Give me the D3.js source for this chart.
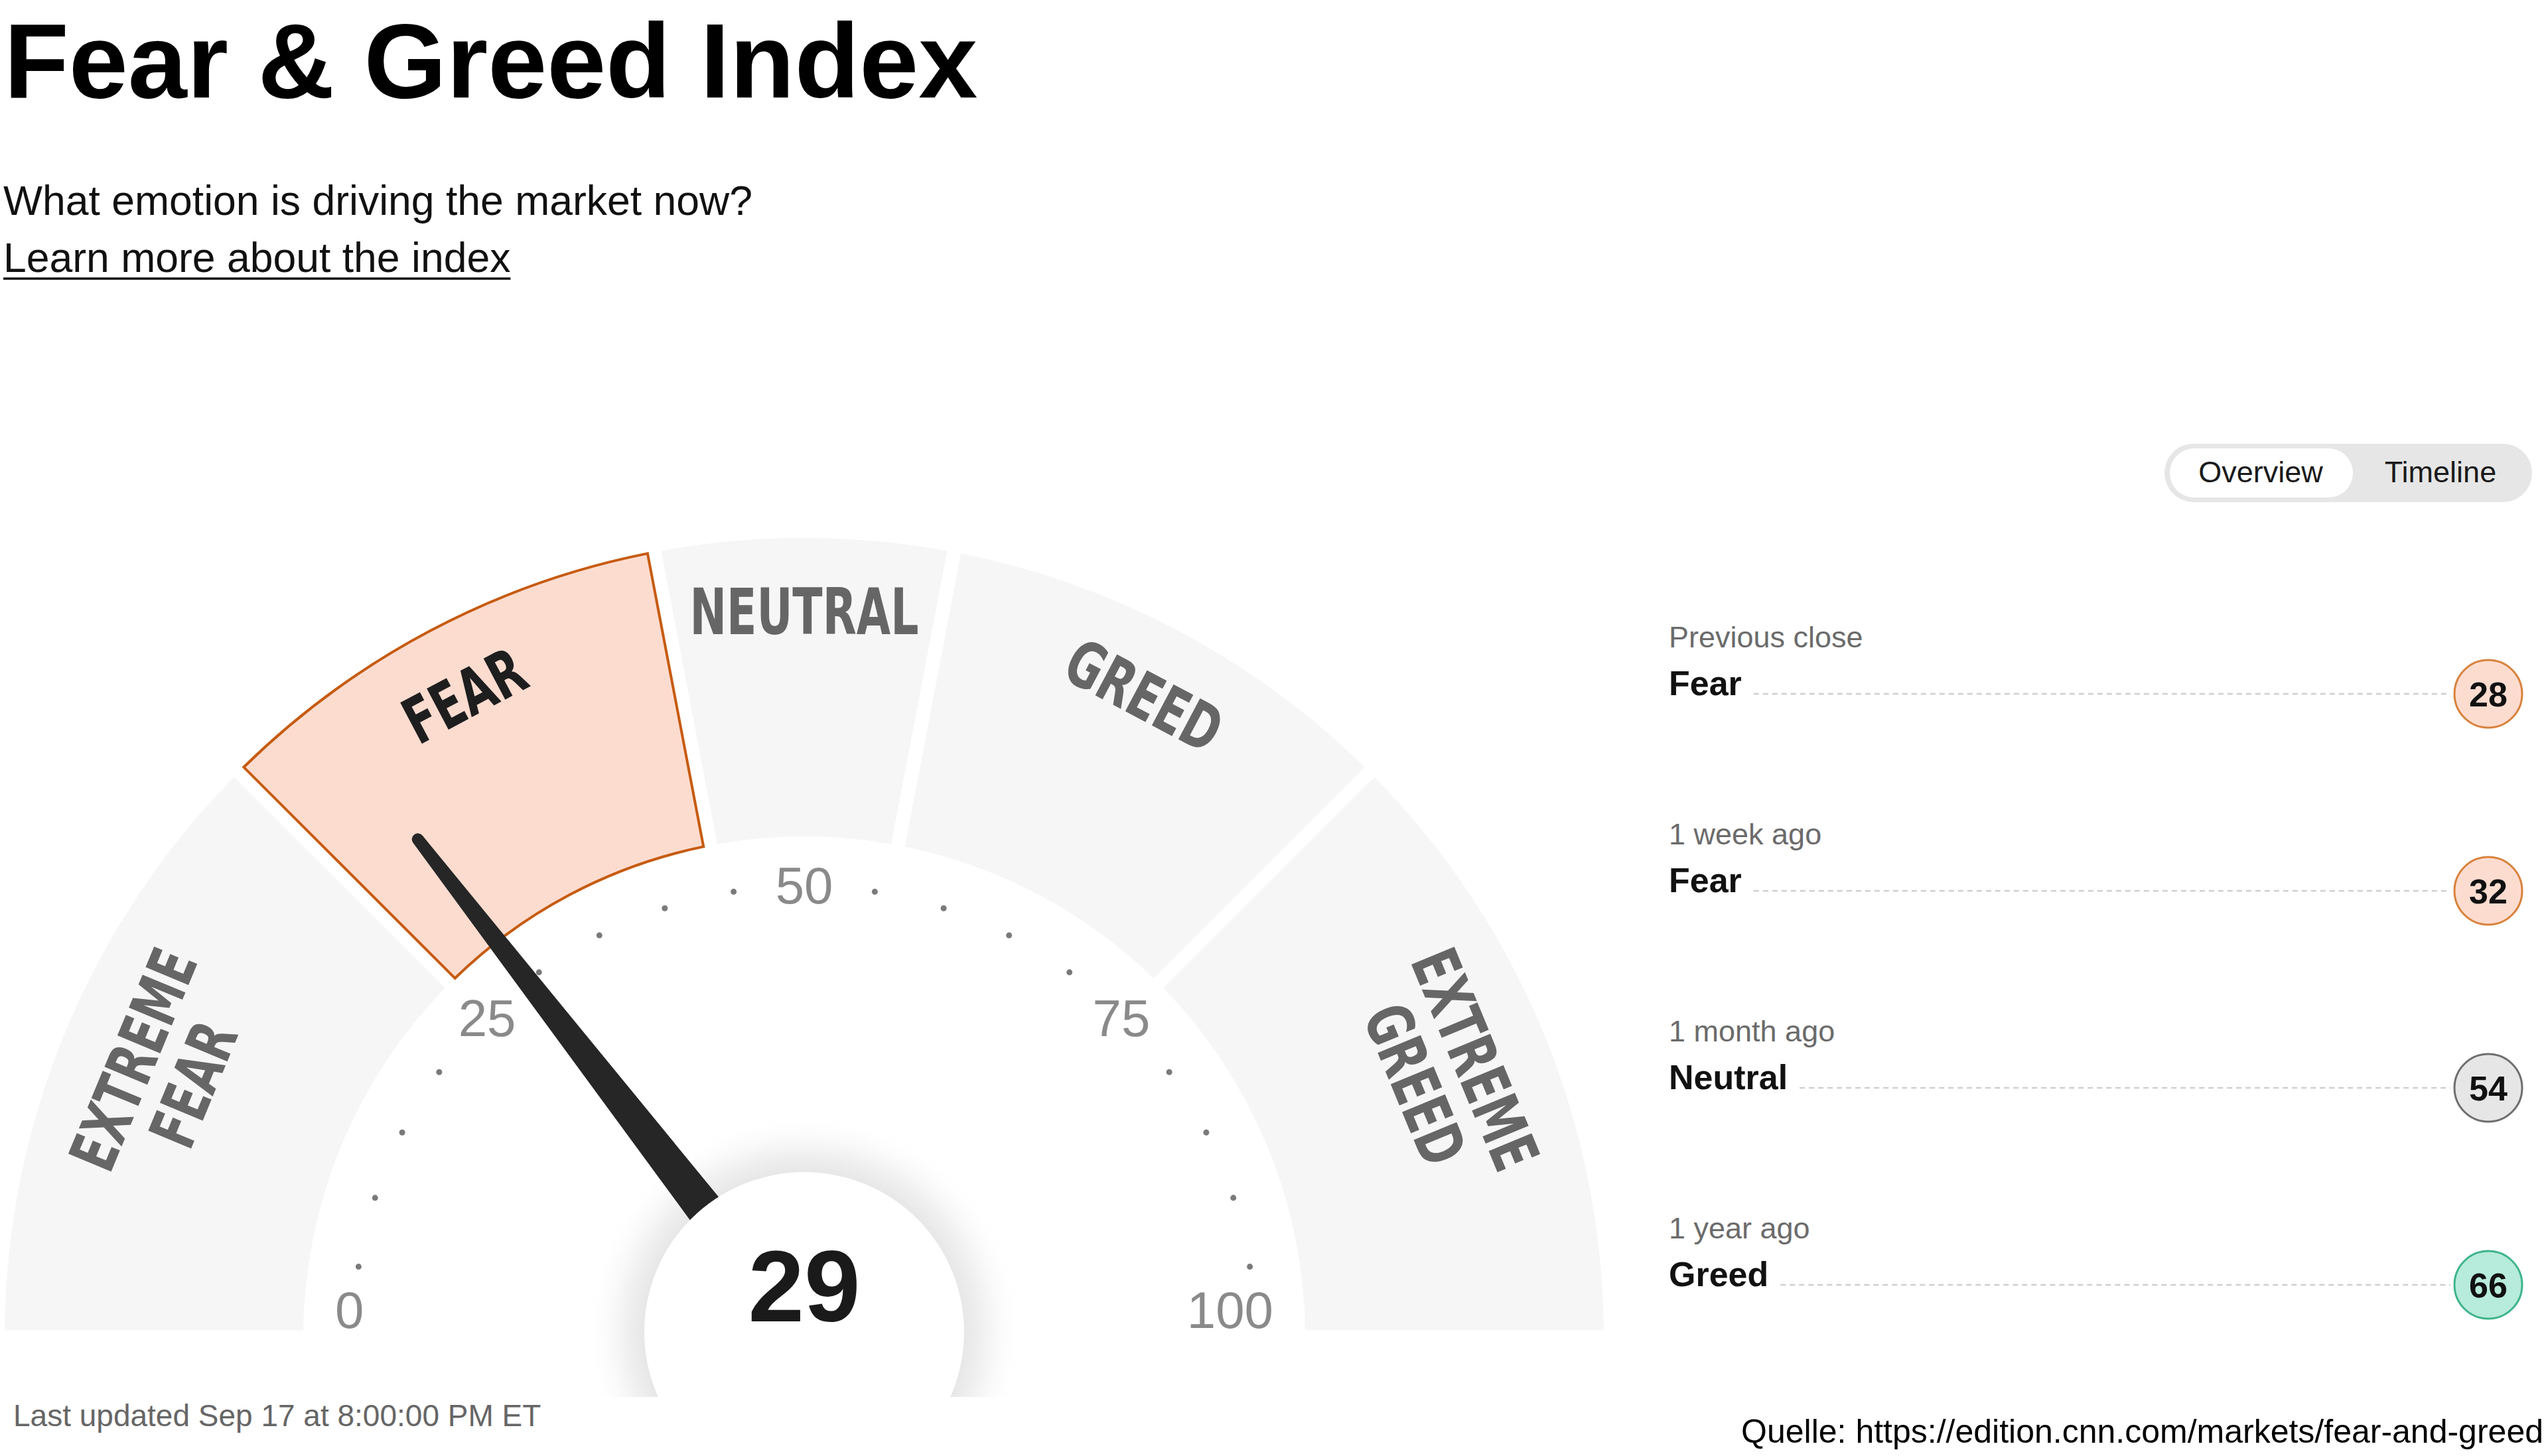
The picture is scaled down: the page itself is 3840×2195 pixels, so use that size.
<!DOCTYPE html>
<html>
<head>
<meta charset="utf-8">
<script src="https://cdn.jsdelivr.net/npm/d3@7"></script>
<style>
  html, body { margin: 0; padding: 0; background: #ffffff; }
  svg { display: block; }
</style>
</head>
<body>
<script>
// ---------------- DATA ----------------
const segmentNames = ["EXTREME FEAR", "FEAR", "NEUTRAL", "GREED", "EXTREME GREED"];
const segmentBounds = [0, 25, 44, 56, 75, 100];
const currentValue = 29;
const tickValues = [0, 25, 50, 75, 100];
const dotValues = [5, 10, 15, 20, 30, 35, 40, 45, 55, 60, 65, 70, 80, 85, 90, 95];
const historyLabels = ["Previous close", "1 week ago", "1 month ago", "1 year ago"];
const historyRatings = ["Fear", "Fear", "Neutral", "Greed"];
const historyValues = [28, 32, 54, 66];
const titleText = "Fear & Greed Index";
const subtitleText = "What emotion is driving the market now?";
const linkText = "Learn more about the index";
const updatedText = "Last updated Sep 17 at 8:00:00 PM ET";
const sourceText = "Quelle: https://edition.cnn.com/markets/fear-and-greed";
const toggleLabels = ["Overview", "Timeline"];

// ---------------- SETUP ----------------
const W = 3840, H = 2195;
const FONT = "'Liberation Sans', Arial, Helvetica, sans-serif";
const COND = "'Liberation Sans Narrow', 'DejaVu Sans Condensed', 'Liberation Sans', sans-serif";

const svg = d3.select("body").append("svg")
  .attr("width", W).attr("height", H)
  .attr("viewBox", `0 0 ${W} ${H}`);

// ---------------- HEADER ----------------
svg.append("text").attr("x", 6).attr("y", 147)
  .attr("font-family", FONT).attr("font-weight", "bold").attr("font-size", 160)
  .attr("fill", "#000").text(titleText);
svg.append("text").attr("x", 5).attr("y", 324)
  .attr("font-family", FONT).attr("font-size", 62.5).attr("fill", "#111").text(subtitleText);
const link = svg.append("text").attr("x", 5).attr("y", 410)
  .attr("font-family", FONT).attr("font-size", 62.5).attr("fill", "#111").text(linkText);
const linkLen = link.node().getComputedTextLength();
svg.append("line").attr("x1", 5).attr("x2", 5 + linkLen).attr("y1", 420).attr("y2", 420)
  .attr("stroke", "#111").attr("stroke-width", 3.5);

// ---------------- GAUGE ----------------
const cx = 1212, cy = 2016;
const rInner = 755, rOuter = 1205;
const angle = d3.scaleLinear().domain([0, 100]).range([-Math.PI / 2, Math.PI / 2]);
const polar = (v, r) => [r * Math.sin(angle(v)), -r * Math.cos(angle(v))];
const deg = a => a * 180 / Math.PI;

const segs = segmentNames.map((name, i) => ({
  name, from: segmentBounds[i], to: segmentBounds[i + 1],
  active: currentValue >= segmentBounds[i] && currentValue < segmentBounds[i + 1]
}));

const gauge = svg.append("g").attr("transform", `translate(${cx},${cy})`);

const arc = d3.arc()
  .innerRadius(rInner).outerRadius(rOuter)
  .padRadius(1000).padAngle(0.021)
  .startAngle(d => angle(d.from)).endAngle(d => angle(d.to));

gauge.selectAll("path.seg").data(segs).join("path")
  .attr("class", "seg")
  .attr("d", arc)
  .attr("fill", d => d.active ? "#fddcd0" : "#f6f6f6")
  .attr("stroke", d => d.active ? "#c65b10" : "none")
  .attr("stroke-width", 4)
  .attr("stroke-linejoin", "miter");

// segment labels
const labelFS = 96, capH = labelFS * 0.72, lineH = 98;
const labelG = gauge.append("g");
segs.forEach(d => {
  const lines = d.name.split(" ");
  const mid = (d.from + d.to) / 2;
  const r = lines.length > 1 ? 1046 : 1095;
  const [x, y] = polar(mid, r);
  const g = labelG.append("g").attr("transform", `translate(${x},${y}) rotate(${deg(angle(mid))})`);
  lines.forEach((ln, i) => {
    g.append("text")
      .attr("class", "seglabel")
      .attr("x", 0)
      .attr("y", (i - (lines.length - 1) / 2) * lineH + capH / 2)
      .attr("text-anchor", "middle")
      .attr("font-family", COND).attr("font-weight", "bold").attr("font-size", labelFS)
      .attr("fill", d.active ? "#1e1e1e" : "#666666")
      .text(ln);
  });
});
// horizontally condense labels to match the narrow display font
let neutralLen = 0;
labelG.selectAll("text.seglabel").each(function () {
  if (this.textContent === "NEUTRAL") neutralLen = this.getComputedTextLength();
});
const sx = neutralLen > 0 ? 345 / neutralLen : 1;
labelG.selectAll("text.seglabel").attr("transform", `scale(${sx},1)`);

// tick dots
gauge.selectAll("circle.dot").data(dotValues).join("circle")
  .attr("class", "dot")
  .attr("cx", v => polar(v, 680)[0]).attr("cy", v => polar(v, 680)[1])
  .attr("r", 4.5).attr("fill", "#7a7a7a");

// tick labels
gauge.selectAll("text.tick").data(tickValues).join("text")
  .attr("class", "tick")
  .attr("x", v => polar(v, (v === 0 || v === 100) ? 707 : 676)[0])
  .attr("y", v => Math.min(polar(v, 682)[1], -42))
  .attr("dy", "0.36em")
  .attr("text-anchor", v => v === 0 ? "start" : v === 100 ? "end" : "middle")
  .attr("font-family", FONT).attr("font-size", 78).attr("fill", "#8a8a8a")
  .text(v => v);

// center shadow
const defs = svg.append("defs");
const grad = defs.append("radialGradient").attr("id", "shadowGrad")
  .attr("gradientUnits", "userSpaceOnUse").attr("cx", 0).attr("cy", -8).attr("r", 330);
grad.append("stop").attr("offset", 0.72).attr("stop-color", "#e6e6e6").attr("stop-opacity", 1);
grad.append("stop").attr("offset", 0.82).attr("stop-color", "#f1f1f1").attr("stop-opacity", 1);
grad.append("stop").attr("offset", 1).attr("stop-color", "#ffffff").attr("stop-opacity", 0);
defs.append("clipPath").attr("id", "shadowClip")
  .append("rect").attr("x", -400).attr("y", -400).attr("width", 800).attr("height", 490);

gauge.append("circle").attr("cy", -8).attr("r", 330).attr("fill", "url(#shadowGrad)")
  .attr("clip-path", "url(#shadowClip)");

// needle
const needle = d3.path();
needle.moveTo(-28, -236);
needle.lineTo(-9, -950);
needle.arc(0, -950, 9, Math.PI, 0);
needle.lineTo(28, -236);
needle.closePath();
gauge.append("path").attr("d", needle.toString())
  .attr("transform", `rotate(${deg(angle(currentValue))})`)
  .attr("fill", "#262626");

// center circle + value
gauge.append("circle").attr("cy", -8).attr("r", 241).attr("fill", "#ffffff");
gauge.append("text").attr("x", 0).attr("y", -24)
  .attr("text-anchor", "middle")
  .attr("font-family", FONT).attr("font-weight", "bold").attr("font-size", 152)
  .attr("fill", "#1a1a1a").text(currentValue);

// ---------------- FOOTER ----------------
svg.append("text").attr("x", 20).attr("y", 2150)
  .attr("font-family", FONT).attr("font-size", 46).attr("fill", "#666").text(updatedText);
svg.append("text").attr("x", 3833).attr("y", 2175).attr("text-anchor", "end")
  .attr("font-family", FONT).attr("font-size", 50).attr("fill", "#000").text(sourceText);

// ---------------- TOGGLE ----------------
const tog = svg.append("g");
tog.append("rect").attr("x", 3262).attr("y", 669).attr("width", 554).attr("height", 88)
  .attr("rx", 44).attr("fill", "#e6e6e6");
tog.append("rect").attr("x", 3270).attr("y", 676).attr("width", 276).attr("height", 74)
  .attr("rx", 37).attr("fill", "#ffffff");
tog.selectAll("text").data(toggleLabels).join("text")
  .attr("x", (d, i) => i === 0 ? 3407 : 3678).attr("y", 727)
  .attr("text-anchor", "middle")
  .attr("font-family", FONT).attr("font-size", 45).attr("fill", "#1a1a1a")
  .text(d => d);

// ---------------- HISTORY ----------------
const ratingStyle = {
  "Extreme Fear": { fill: "#f9c0a8", stroke: "#c65b10" },
  "Fear": { fill: "#fddcd0", stroke: "#d8823c" },
  "Neutral": { fill: "#e6e6e6", stroke: "#6e6e6e" },
  "Greed": { fill: "#b7ebdb", stroke: "#3fb48b" },
  "Extreme Greed": { fill: "#8fdcc2", stroke: "#2a9a72" }
};
const rowY = d3.scaleLinear().domain([0, 3]).range([1046, 1937]);
const listX = 2515, circX = 3750, circR = 51;
const hist = svg.append("g");
historyLabels.forEach((lab, i) => {
  const y = rowY(i);
  hist.append("text").attr("x", listX).attr("y", y - 70)
    .attr("font-family", FONT).attr("font-size", 45).attr("fill", "#6b6b6b").text(lab);
  const rt = hist.append("text").attr("x", listX).attr("y", y + 2)
    .attr("font-family", FONT).attr("font-weight", "bold").attr("font-size", 52)
    .attr("fill", "#111").text(historyRatings[i]);
  const w = rt.node().getComputedTextLength();
  hist.append("line").attr("x1", listX + w + 18).attr("x2", circX - circR - 6)
    .attr("y1", y).attr("y2", y)
    .attr("stroke", "#cfcfcf").attr("stroke-width", 2.5).attr("stroke-dasharray", "8,6");
  const st = ratingStyle[historyRatings[i]];
  hist.append("circle").attr("cx", circX).attr("cy", y).attr("r", circR)
    .attr("fill", st.fill).attr("stroke", st.stroke).attr("stroke-width", 3);
  hist.append("text").attr("x", circX).attr("y", y + 19).attr("text-anchor", "middle")
    .attr("font-family", FONT).attr("font-weight", "bold").attr("font-size", 52)
    .attr("fill", "#111").text(historyValues[i]);
});
</script>
</body>
</html>
